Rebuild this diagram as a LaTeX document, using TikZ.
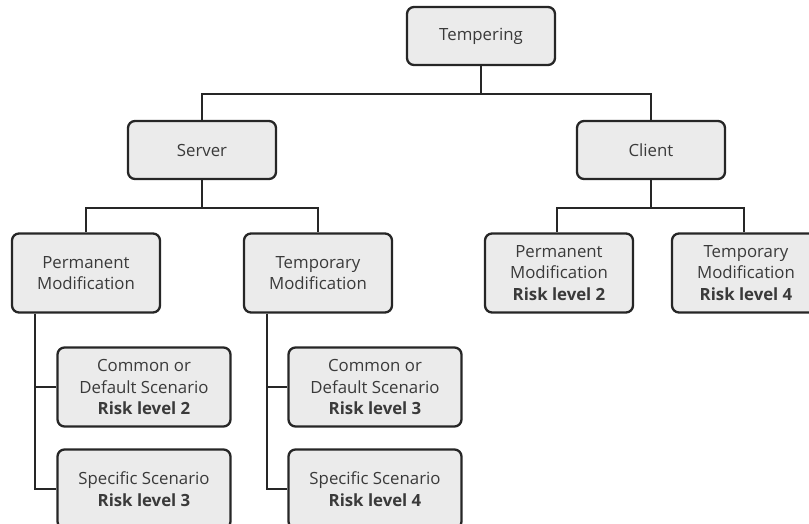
\documentclass[tikz,border=0pt]{standalone}
\usepackage{fontspec}
\setmainfont{Open Sans}
\definecolor{boxfill}{HTML}{EBEBEB}
\definecolor{boxline}{HTML}{262626}
\definecolor{txt}{HTML}{3A3A3A}
\begin{document}
\begin{tikzpicture}[x=1pt,y=-1pt,
  box/.style={draw=boxline,fill=boxfill,line width=2.3pt,rounded corners=7pt,
    minimum width=148pt,minimum height=58pt,align=center,text=txt,
    font=\fontsize{16.8}{21.6}\selectfont,inner sep=2pt},
  tall/.style={box,minimum height=79pt},
  wide/.style={tall,minimum width=173pt},
  link/.style={draw=boxline,line width=2.3pt}]
\useasboundingbox (0,0) rectangle (809,524);
\node[box] (temp) at (481,36) {Tempering};
\node[box] (server) at (202,150) {Server};
\node[box] (client) at (651,150) {Client};
\node[tall] (spm) at (86,273) {Permanent\\Modification};
\node[tall] (stm) at (318,273) {Temporary\\Modification};
\node[tall] (cpm) at (559,273) {Permanent\\Modification\\\textbf{Risk level 2}};
\node[tall] (ctm) at (746,273) {Temporary\\Modification\\\textbf{Risk level 4}};
\node[wide] (pcd) at (144,387) {Common or\\Default Scenario\\\textbf{Risk level 2}};
\node[wide] (pss) at (144,489) {Specific Scenario\\\textbf{Risk level 3}};
\node[wide] (tcd) at (375,387) {Common or\\Default Scenario\\\textbf{Risk level 3}};
\node[wide] (tss) at (375,489) {Specific Scenario\\\textbf{Risk level 4}};
% tree links
\draw[link] (temp.south) -- ++(0,28) -| (server.north);
\draw[link] (temp.south) -- ++(0,28) -| (client.north);
\draw[link] (server.south) -- ++(0,28) -| (spm.north);
\draw[link] (server.south) -- ++(0,28) -| (stm.north);
\draw[link] (client.south) -- ++(0,28) -| ([xshift=-2pt]cpm.north);
\draw[link] (client.south) -- ++(0,28) -| ([xshift=-2pt]ctm.north);
\draw[link] ([xshift=-51pt]spm.south) |- (pcd.west);
\draw[link] ([xshift=-51pt]spm.south) |- (pss.west);
\draw[link] ([xshift=-51pt]stm.south) |- (tcd.west);
\draw[link] ([xshift=-51pt]stm.south) |- (tss.west);
\end{tikzpicture}
\end{document}
